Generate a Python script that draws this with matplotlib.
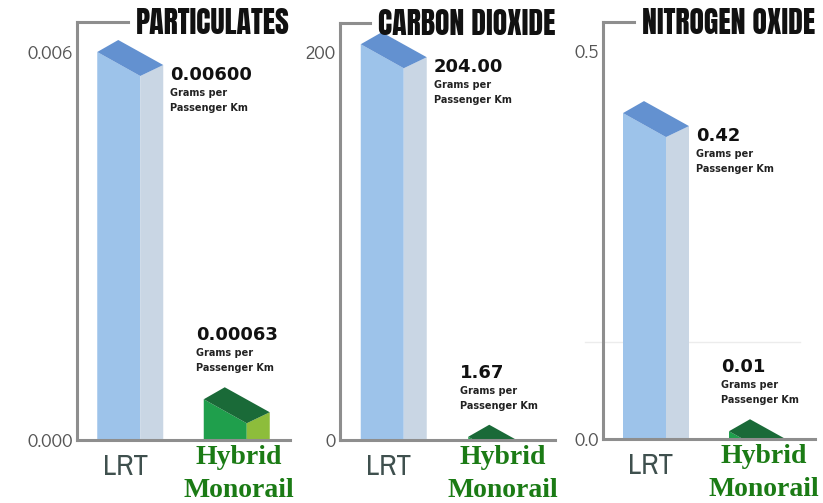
import matplotlib
matplotlib.use("Agg")
import matplotlib.pyplot as plt
from matplotlib.patches import Polygon

# emissions per passenger km, LRT vs hybrid monorail
categories = ["LRT", "Hybrid\nMonorail"]
pollutants = ["PARTICULATES", "CARBON DIOXIDE", "NITROGEN OXIDE"]
particulates = [0.00600, 0.00063]
carbon_dioxide = [204.00, 1.67]
nitrogen_oxide = [0.42, 0.01]
value_text = [["0.00600", "0.00063"], ["204.00", "1.67"], ["0.42", "0.01"]]
axis_ticks = [[0.0, 0.006], [0, 200], [0.0, 0.5]]
tick_labels = [["0.000", "0.006"], ["0", "200"], ["0.0", "0.5"]]
unit_text = ["Grams per", "Passenger Km"]

W, H = 823, 503
# panel frames in pixels: left, right, baseline, top, y of upper tick
frames = [(77, 290, 440, 22, 52), (340, 555, 440, 23, 52), (603, 815, 439, 22, 51)]

blue = {"front": "#9dc3ea", "side": "#c9d6e4", "top": "#6391d0"}
green = {"front": "#1f9f4c", "side": "#8dbd3b", "top": "#1a6a38"}
axis_grey = "#8e8e8e"
heavy = ["Anton", "Liberation Sans Narrow", "DejaVu Sans"]
narrow = ["Archivo Narrow", "Liberation Sans Narrow", "DejaVu Sans"]
gothic = ["Didact Gothic", "DejaVu Sans"]
serif = ["Liberation Serif", "DejaVu Serif"]

fig = plt.figure(figsize=(W / 100, H / 100), dpi=100)
fig.patch.set_facecolor("white")


def draw_bar(ax, x, v, sx, sy, colors):
    # pseudo-3D column, value at the top-left corner of the front face
    xl = x - 33 * sx
    xb = xl + 43 * sx
    xr = xb + 23 * sx
    xk = xl + 21 * sx
    front = [(xl, 0), (xl, v), (xb, v - 24 * sy), (xb, 0)]
    side = [(xb, 0), (xb, v - 24 * sy), (xr, v - 13 * sy), (xr, 0)]
    top = [(xl, v), (xk, v + 12 * sy), (xr, v - 13 * sy), (xb, v - 24 * sy)]
    for pts, key in [(front, "front"), (side, "side"), (top, "top")]:
        ax.add_patch(Polygon(pts, closed=True, facecolor=colors[key],
                             edgecolor="none", zorder=1))


series = [particulates, carbon_dioxide, nitrogen_oxide]
for i, (vals, (l, r, b, t, yt)) in enumerate(zip(series, frames)):
    ax = fig.add_axes([l / W, (H - b) / H, (r - l) / W, (b - t) / H])
    ymax = axis_ticks[i][1] * (b - t) / (b - yt)
    ax.set_xlim(-0.5, 1.5)
    ax.set_ylim(0, ymax)
    sx = 2.0 / (r - l)
    sy = ymax / (b - t)

    for sp in ["top", "right"]:
        ax.spines[sp].set_visible(False)
    for sp in ["left", "bottom"]:
        ax.spines[sp].set_color(axis_grey)
        ax.spines[sp].set_linewidth(2.2)
    ax.set_xticks([])
    ax.set_yticks(axis_ticks[i], tick_labels[i])
    ax.tick_params(axis="y", length=0, pad=3, labelsize=13.5, labelcolor="#555555")
    for lab in ax.get_yticklabels():
        lab.set_family(gothic)

    if i == 2:
        ax.plot([-0.085, 0.93], [0.233, 0.233], color="#ececec", lw=1,
                transform=ax.transAxes, clip_on=False, zorder=0)

    for j, v in enumerate(vals):
        draw_bar(ax, j, v, sx, sy, blue if j == 0 else green)
        if j == 0:
            dx, dy = 40, -28
        else:
            dx, dy = -41, 59
        ax.annotate(value_text[i][j], xy=(j, v), xytext=(dx * 0.72, dy * 0.72),
                    textcoords="offset points", ha="left", va="baseline",
                    fontsize=13, fontweight="bold", color="#111111")
        for k, line in enumerate(unit_text):
            ax.annotate(line, xy=(j, v),
                        xytext=(dx * 0.72, (dy - 16 - 15 * k) * 0.72),
                        textcoords="offset points", ha="left", va="baseline",
                        fontsize=7, fontweight="bold", color="#222222")

    # category names under the baseline
    ax.annotate(categories[0], xy=(0, 0), xycoords=("data", "axes fraction"),
                xytext=(-5 * 0.72, -35 * 0.72), textcoords="offset points",
                ha="center", va="baseline", fontsize=21, family=narrow,
                color="#3f504e", annotation_clip=False)
    for k, line in enumerate(categories[1].split("\n")):
        ax.annotate(line, xy=(1, 0), xycoords=("data", "axes fraction"),
                    xytext=(2 * 0.72, (-24 - 33 * k) * 0.72),
                    textcoords="offset points", ha="center", va="baseline",
                    fontsize=20, fontweight="bold", family=serif,
                    color="#1b7b15", annotation_clip=False)

    # title at the top right with a stub joining the axis line
    title = ax.text(1.0, 1.0 - 12 / (b - t), pollutants[i], transform=ax.transAxes,
                    ha="right", va="baseline", fontsize=21.5, family=heavy,
                    color="#111111")
    fig.canvas.draw()
    bb = title.get_window_extent()
    ax_bb = ax.get_window_extent()
    stub_end = (bb.x0 - 8 - ax_bb.x0) / ax_bb.width
    ax.plot([0, stub_end], [1, 1], color=axis_grey, lw=2.2,
            transform=ax.transAxes, clip_on=False, solid_capstyle="projecting")

fig.savefig("out.png", dpi=100)
